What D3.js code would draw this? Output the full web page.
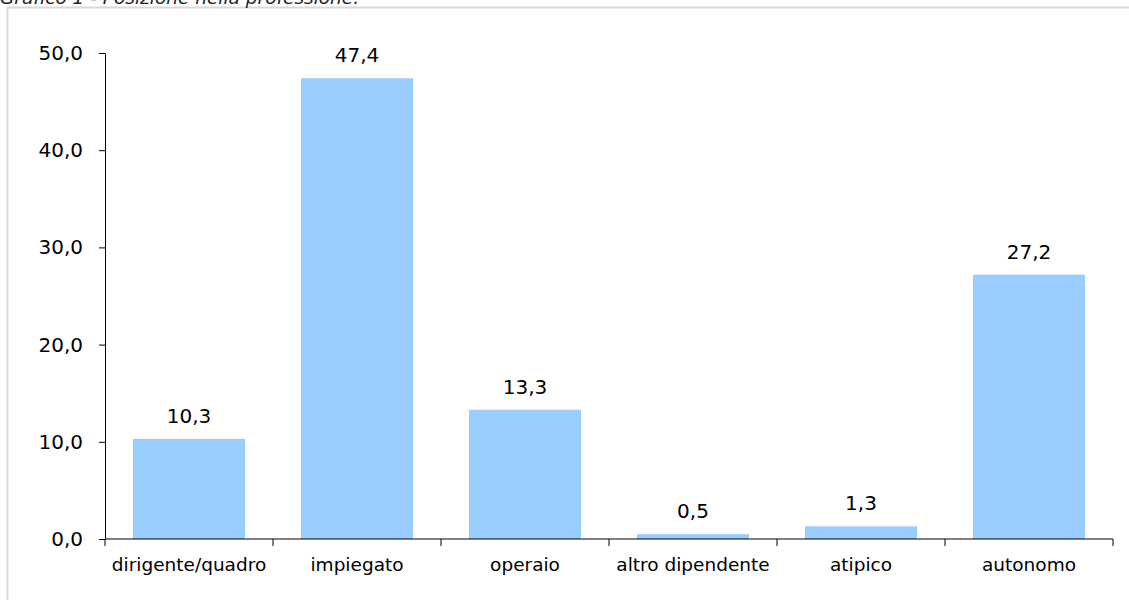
<!DOCTYPE html>
<html><head><meta charset="utf-8">
<script src="https://cdn.jsdelivr.net/npm/d3@7"></script>
<style>body{margin:0;background:#fff}svg{display:block}</style>
</head><body>
<script>
const categories = ["dirigente/quadro","impiegato","operaio","altro dipendente","atipico","autonomo"];
const values = [10.3,47.4,13.3,0.5,1.3,27.2];
const yTicks = [0,10,20,30,40,50];
const title = "Grafico 1 - Posizione nella professione.";

const W=1129,H=600;
const svg=d3.select("body").append("svg").attr("width",W).attr("height",H);
const font="DejaVu Sans, Verdana, sans-serif";
const fmt=v=>v.toFixed(1).replace(".",",");

svg.append("rect").attr("x",7.5).attr("y",7.5).attr("width",W+10).attr("height",H+10)
  .attr("fill","none").attr("stroke","#d9d9d9").attr("stroke-width",2);
svg.append("text").attr("x",0).attr("y",4).attr("font-family",font).attr("font-style","italic")
  .attr("font-size",18.5).attr("fill","#222").text(title);

const x=d3.scaleBand().domain(categories).range([105,1113]).paddingInner(1/3).paddingOuter(1/6);
const y=d3.scaleLinear().domain([0,50]).range([539,53]);

svg.selectAll("rect.bar").data(values).join("rect").attr("class","bar")
  .attr("x",(d,i)=>x(categories[i])).attr("width",x.bandwidth())
  .attr("y",d=>y(d)).attr("height",d=>y(0)-y(d)).attr("fill","#99ccff");

svg.selectAll("text.lbl").data(values).join("text").attr("class","lbl")
  .attr("x",(d,i)=>x(categories[i])+x.bandwidth()/2).attr("y",d=>y(d)-16)
  .attr("text-anchor","middle").attr("font-family",font).attr("font-size",20).attr("fill","#000")
  .text(fmt);

const ya=svg.append("g").attr("transform","translate(105,0)")
  .call(d3.axisLeft(y).tickValues(yTicks).tickFormat(fmt).tickSize(6).tickPadding(16));
ya.selectAll("text").attr("font-family",font).attr("font-size",20).attr("fill","#000");
ya.selectAll("line,path").attr("stroke","#000");

const xb=d3.scaleBand().domain(categories).range([105,1113]);
const xa=svg.append("g").attr("transform","translate(0,539)")
  .call(d3.axisBottom(xb).tickSize(0).tickPadding(19));
xa.selectAll("text").attr("font-family",font).attr("font-size",18.5).attr("fill","#000");
xa.select("path").attr("stroke","#000").attr("d","M105,0H1113");
xa.selectAll(".tk").data(d3.range(categories.length+1)).join("line").attr("class","tk")
  .attr("x1",i=>105+i*xb.step()).attr("x2",i=>105+i*xb.step()).attr("y1",0).attr("y2",7).attr("stroke","#000");
</script>
</body></html>
